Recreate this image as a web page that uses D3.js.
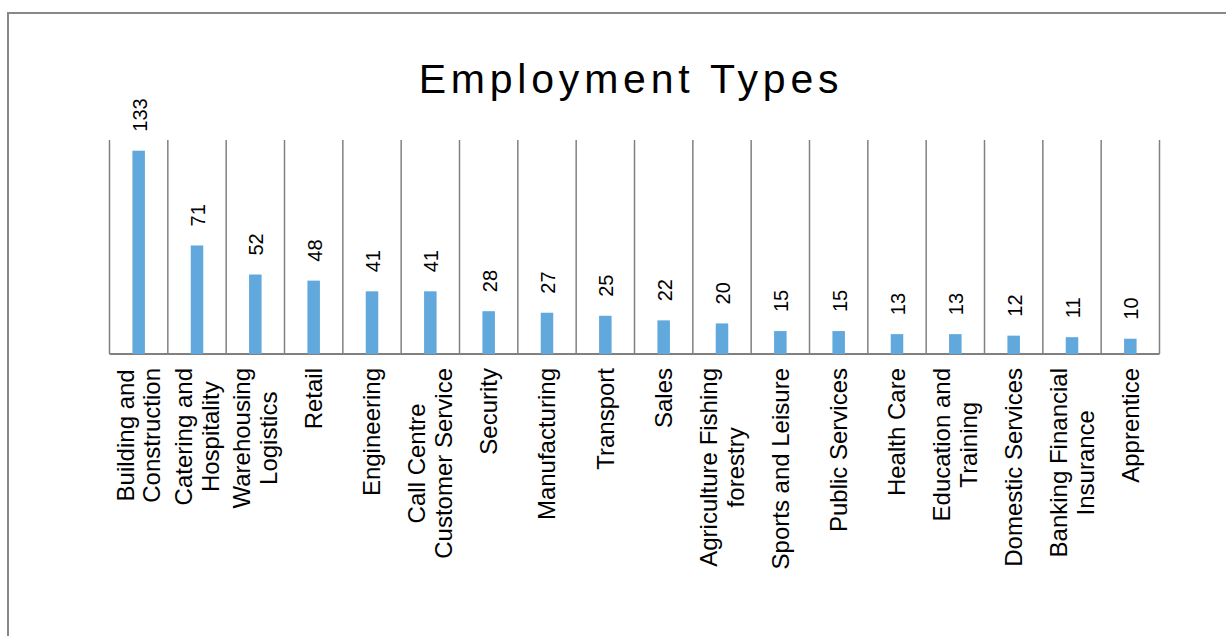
<!DOCTYPE html>
<html>
<head>
<meta charset="utf-8">
<script src="https://cdn.jsdelivr.net/npm/d3@7"></script>
<style>
  body { margin: 0; background: #fff; }
  svg { display: block; font-family: "Liberation Sans", Arial, sans-serif; }
</style>
</head>
<body>
<svg id="chart" width="1226" height="636"></svg>
<script>
// DATA
const categories = [
  "Building and\nConstruction",
  "Catering and\nHospitality",
  "Warehousing\nLogistics",
  "Retail",
  "Engineering",
  "Call Centre\nCustomer Service",
  "Security",
  "Manufacturing",
  "Transport",
  "Sales",
  "Agriculture Fishing\nforestry",
  "Sports and Leisure",
  "Public Services",
  "Health Care",
  "Education and\nTraining",
  "Domestic Services",
  "Banking Financial\nInsurance",
  "Apprentice",
];
const values = [133, 71, 52, 48, 41, 41, 28, 27, 25, 22, 20, 15, 15, 13, 13, 12, 11, 10];
const yDomain = [0, 140];

// CANVAS SETUP
const svg = d3.select("#chart");
const margin = { top: 140, left: 109.5, right: 1226 - 1159.5, bottom: 636 - 354 },
  width = 1226 - margin.left - margin.right,
  height = 636 - margin.top - margin.bottom;

// outer frame
svg.append("rect")
  .attr("x", 8).attr("y", 13)
  .attr("width", 1240).attr("height", 700)
  .attr("fill", "none")
  .attr("stroke", "#888")
  .attr("stroke-width", 2);

svg.append("text")
  .attr("x", 631).attr("y", 93)
  .attr("text-anchor", "middle")
  .attr("font-size", 41)
  .attr("letter-spacing", 4.8)
  .attr("fill", "#000")
  .text("Employment Types");

const g = svg.append("g").attr("transform", `translate(${margin.left},${margin.top})`);

const xScale = d3.scaleBand().domain(d3.range(categories.length)).range([0, width]).padding(0);
const yScale = d3.scaleLinear().domain(yDomain).range([height, 0]);

// vertical separators
g.selectAll("line.sep")
  .data(d3.range(categories.length + 1))
  .join("line")
  .attr("class", "sep")
  .attr("x1", (d) => d * xScale.step())
  .attr("x2", (d) => d * xScale.step())
  .attr("y1", 0)
  .attr("y2", height)
  .attr("stroke", "#808080")
  .attr("stroke-width", 1.5);

// baseline
g.append("line")
  .attr("x1", 0).attr("x2", width)
  .attr("y1", height).attr("y2", height)
  .attr("stroke", "#808080")
  .attr("stroke-width", 2);

const barW = 12.5;

g.selectAll("rect.bar")
  .data(values)
  .join("rect")
  .attr("class", "bar")
  .attr("x", (d, i) => xScale(i) + xScale.bandwidth() / 2 - barW / 2)
  .attr("y", (d) => yScale(d))
  .attr("width", barW)
  .attr("height", (d) => height - yScale(d))
  .attr("fill", "#61a8dc");

// value labels
g.selectAll("text.val")
  .data(values)
  .join("text")
  .attr("class", "val")
  .attr("transform", (d, i) =>
    `translate(${xScale(i) + xScale.bandwidth() / 2 + 1},${yScale(d) - 19}) rotate(-90)`)
  .attr("dy", "0.35em")
  .attr("font-size", 20)
  .attr("fill", "#000")
  .text((d) => d);

// category labels
const lineH = 26.5;
const labelTop = 368 - margin.top;

categories.forEach((c, i) => {
  const lines = c.split("\n");
  const cx = xScale(i) + xScale.bandwidth() / 2;
  const lg = g.append("g");
  const texts = lines.map((l) =>
    lg.append("text").attr("font-size", 24).attr("fill", "#000")
      .attr("text-anchor", "middle").text(l));
  const maxW = d3.max(texts, (t) => t.node().getComputedTextLength());
  texts.forEach((t, j) => {
    const off = (j - (lines.length - 1) / 2) * lineH;
    t.attr("transform", `translate(${cx + off},${labelTop + maxW / 2}) rotate(-90)`)
      .attr("dy", "0.35em");
  });
});
</script>
</body>
</html>
